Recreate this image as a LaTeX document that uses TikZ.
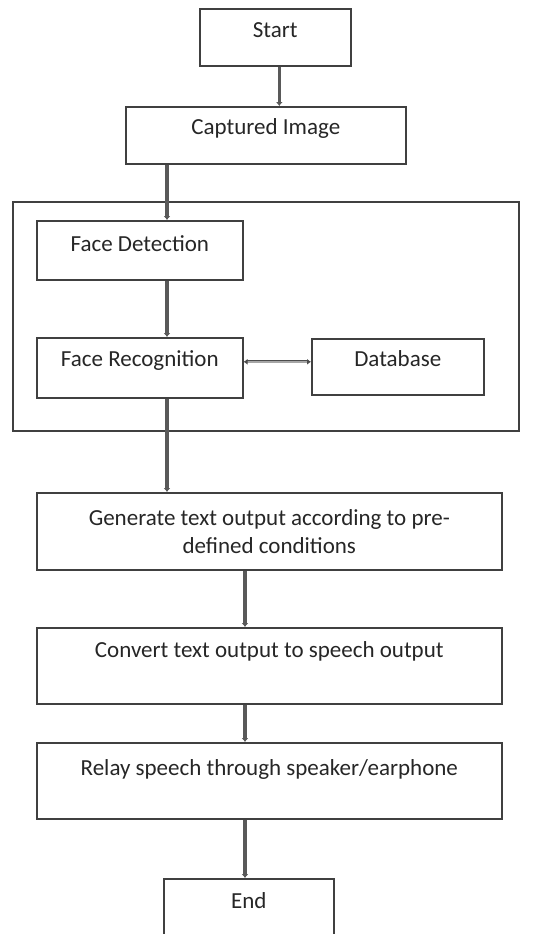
\documentclass[tikz,border=0pt]{standalone}
\usepackage{fontspec}
\setmainfont{Carlito}
\usetikzlibrary{arrows.meta, positioning, calc}

\begin{document}
\begin{tikzpicture}[
    x=1pt, y=-1pt,
    font=\fontsize{23}{28}\selectfont,
    stepbox/.style={draw=black!75, line width=1.6pt, rectangle, inner sep=0pt,
        anchor=north west, text=black!85},
    frame/.style={draw=black!75, line width=1.6pt},
    link/.style={draw=black!65, line width=3.4pt, -{Latex[length=4pt, width=7pt]}},
    dblink/.style={draw=black!70, line width=0.9pt, double=black!35, double distance=1.4pt,
        {Latex[length=4pt, width=6pt]}-{Latex[length=4pt, width=6pt]}}
]
    \useasboundingbox (0,0) rectangle (539,934);
    \clip (0,0) rectangle (539,934);

    % top part
    \node[stepbox, minimum width=151pt, text height=29pt, text depth=28pt] (start) at (199,8) {Start};
    \node[stepbox, minimum width=280pt, text height=28pt, text depth=29pt] (cap) at (125,106) {Captured Image};

    % recognition block
    \draw[frame] (13,202) rectangle (519,431);
    \node[stepbox, minimum width=206pt, text height=31pt, text depth=28pt] (fd) at (36,220) {Face Detection};
    \node[stepbox, minimum width=206pt, text height=29pt, text depth=31pt] (fr) at (36,337) {Face Recognition};
    \node[stepbox, minimum width=172pt, text height=28pt, text depth=28pt] (db) at (311,338) {Database};

    % output part
    \node[stepbox, minimum width=465pt, minimum height=77pt, align=center] (gen) at (36,492)
        {Generate text output according to pre-\\defined conditions};
    \node[stepbox, minimum width=465pt, text height=30pt, text depth=46pt] (conv) at (36,627)
        {Convert text output to speech output};
    \node[stepbox, minimum width=465pt, text height=33pt, text depth=43pt] (relay) at (36,742)
        {Relay speech through speaker/earphone};
    \node[stepbox, minimum width=170pt, text height=30pt, text depth=50pt] (end) at (163,878) {End};

    % connectors
    \coordinate (spine) at (167,0);
    \coordinate (trunk) at (245,0);
    \draw[link] ([xshift=4pt]start.south) -- ([xshift=4pt]start.south |- cap.north);
    \draw[link] (cap.south -| spine) -- (fd.north -| spine);
    \draw[link] (fd.south -| spine) -- (fr.north -| spine);
    \draw[dblink] ([yshift=6pt]fr.east) -- ([yshift=6pt]fr.east -| db.west);
    \draw[link] (fr.south -| spine) -- (gen.north -| spine);
    \draw[link] (gen.south -| trunk) -- (conv.north -| trunk);
    \draw[link] (conv.south -| trunk) -- (relay.north -| trunk);
    \draw[link] (relay.south -| trunk) -- (end.north -| trunk);
\end{tikzpicture}
\end{document}
